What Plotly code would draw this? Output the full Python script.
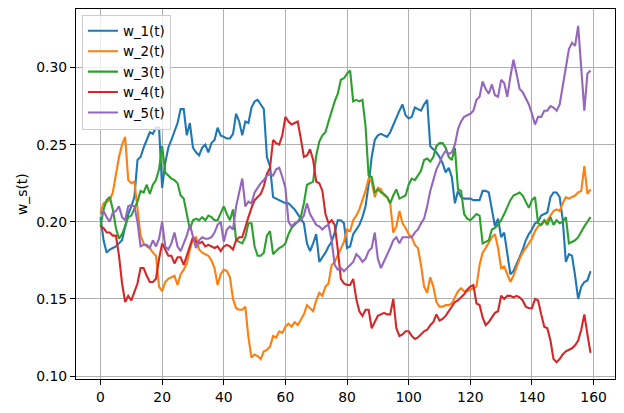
import plotly.graph_objects as go

t = list(range(160))

w_1 = [0.203, 0.188, 0.180, 0.182, 0.183, 0.184, 0.186, 0.188, 0.197, 0.205,
       0.210, 0.216, 0.240, 0.242, 0.248, 0.253, 0.258, 0.257, 0.261, 0.261,
       0.222, 0.238, 0.248, 0.253, 0.258, 0.264, 0.273, 0.273, 0.256, 0.264,
       0.248, 0.245, 0.243, 0.248, 0.250, 0.245, 0.251, 0.253, 0.261, 0.256,
       0.255, 0.254, 0.254, 0.257, 0.270, 0.265, 0.256, 0.265, 0.264, 0.274,
       0.278, 0.279, 0.276, 0.273, 0.242, 0.236, 0.216, 0.215, 0.214, 0.213,
       0.212, 0.212, 0.210, 0.208, 0.205, 0.202, 0.199, 0.186, 0.181, 0.186,
       0.192, 0.174, 0.177, 0.180, 0.184, 0.187, 0.193, 0.201, 0.201, 0.199,
       0.183, 0.184, 0.192, 0.195, 0.198, 0.203, 0.210, 0.224, 0.242, 0.253,
       0.256, 0.257, 0.256, 0.255, 0.258, 0.263, 0.267, 0.272, 0.276, 0.269,
       0.267, 0.268, 0.274, 0.273, 0.272, 0.276, 0.279, 0.249, 0.247, 0.245,
       0.242, 0.238, 0.232, 0.235, 0.229, 0.212, 0.220, 0.216, 0.215, 0.215,
       0.215, 0.214, 0.214, 0.214, 0.220, 0.220, 0.219, 0.208, 0.197, 0.202,
       0.190, 0.193, 0.180, 0.166, 0.168, 0.172, 0.177, 0.182, 0.188, 0.192,
       0.195, 0.199, 0.200, 0.204, 0.205, 0.206, 0.216, 0.219, 0.219, 0.216,
       0.201, 0.174, 0.179, 0.178, 0.165, 0.150, 0.158, 0.161, 0.162, 0.168]

w_2 = [0.206, 0.212, 0.213, 0.214, 0.219, 0.232, 0.242, 0.250, 0.255, 0.227,
       0.225, 0.226, 0.208, 0.191, 0.186, 0.184, 0.183, 0.180, 0.178, 0.158,
       0.155, 0.161, 0.163, 0.164, 0.165, 0.159, 0.166, 0.169, 0.173, 0.182,
       0.189, 0.190, 0.182, 0.180, 0.179, 0.178, 0.175, 0.170, 0.159, 0.166,
       0.169, 0.168, 0.164, 0.150, 0.144, 0.143, 0.143, 0.145, 0.125, 0.112,
       0.114, 0.113, 0.111, 0.116, 0.117, 0.119, 0.126, 0.125, 0.129, 0.128,
       0.132, 0.134, 0.132, 0.135, 0.133, 0.137, 0.140, 0.146, 0.144, 0.142,
       0.149, 0.154, 0.152, 0.158, 0.160, 0.172, 0.174, 0.178, 0.182, 0.187,
       0.195, 0.194, 0.201, 0.204, 0.208, 0.214, 0.220, 0.228, 0.226, 0.216,
       0.222, 0.221, 0.217, 0.216, 0.212, 0.193, 0.197, 0.207, 0.199, 0.196,
       0.192, 0.190, 0.185, 0.183, 0.172, 0.158, 0.154, 0.164, 0.158, 0.148,
       0.145, 0.145, 0.146, 0.146, 0.147, 0.151, 0.155, 0.157, 0.155, 0.155,
       0.156, 0.157, 0.158, 0.172, 0.180, 0.183, 0.187, 0.190, 0.192, 0.183,
       0.170, 0.171, 0.166, 0.161, 0.165, 0.171, 0.176, 0.180, 0.183, 0.186,
       0.189, 0.194, 0.197, 0.198, 0.200, 0.201, 0.204, 0.207, 0.208, 0.207,
       0.212, 0.216, 0.215, 0.216, 0.217, 0.219, 0.220, 0.236, 0.218, 0.221]

w_3 = [0.197, 0.208, 0.214, 0.216, 0.208, 0.196, 0.189, 0.192, 0.197, 0.203,
       0.204, 0.208, 0.213, 0.220, 0.219, 0.224, 0.218, 0.224, 0.227, 0.234,
       0.249, 0.232, 0.230, 0.228, 0.227, 0.225, 0.217, 0.215, 0.205, 0.195,
       0.201, 0.202, 0.201, 0.203, 0.201, 0.204, 0.203, 0.201, 0.201, 0.205,
       0.210, 0.205, 0.201, 0.208, 0.188, 0.187, 0.186, 0.190, 0.199, 0.199,
       0.184, 0.178, 0.178, 0.180, 0.191, 0.194, 0.179, 0.181, 0.183, 0.184,
       0.186, 0.192, 0.196, 0.198, 0.200, 0.203, 0.212, 0.224, 0.225, 0.226,
       0.243, 0.252, 0.256, 0.258, 0.265, 0.272, 0.278, 0.283, 0.292, 0.293,
       0.296, 0.298, 0.278, 0.279, 0.278, 0.279, 0.262, 0.230, 0.229, 0.219,
       0.221, 0.219, 0.218, 0.216, 0.212, 0.217, 0.221, 0.215, 0.216, 0.217,
       0.224, 0.228, 0.227, 0.230, 0.233, 0.240, 0.241, 0.239, 0.242, 0.249,
       0.251, 0.251, 0.248, 0.242, 0.240, 0.248, 0.221, 0.220, 0.205, 0.202,
       0.201, 0.203, 0.205, 0.204, 0.186, 0.187, 0.188, 0.195, 0.196, 0.198,
       0.201, 0.205, 0.210, 0.214, 0.217, 0.218, 0.219, 0.217, 0.213, 0.209,
       0.214, 0.216, 0.199, 0.198, 0.201, 0.198, 0.203, 0.198, 0.201, 0.199,
       0.200, 0.203, 0.186, 0.187, 0.188, 0.190, 0.194, 0.197, 0.200, 0.203]

w_4 = [0.197, 0.196, 0.193, 0.193, 0.191, 0.191, 0.178, 0.160, 0.148, 0.152,
       0.149, 0.155, 0.160, 0.170, 0.170, 0.165, 0.161, 0.161, 0.163, 0.176,
       0.186, 0.182, 0.178, 0.178, 0.173, 0.177, 0.177, 0.172, 0.178, 0.184,
       0.190, 0.187, 0.186, 0.187, 0.184, 0.185, 0.184, 0.183, 0.184, 0.181,
       0.184, 0.185, 0.184, 0.182, 0.188, 0.190, 0.190, 0.197, 0.203, 0.209,
       0.214, 0.216, 0.218, 0.223, 0.231, 0.235, 0.253, 0.251, 0.250, 0.256,
       0.268, 0.265, 0.263, 0.264, 0.265, 0.254, 0.242, 0.243, 0.247, 0.240,
       0.226, 0.225, 0.220, 0.205, 0.199, 0.201, 0.198, 0.182, 0.163, 0.160,
       0.159, 0.159, 0.163, 0.150, 0.142, 0.139, 0.143, 0.143, 0.131, 0.135,
       0.139, 0.140, 0.141, 0.140, 0.140, 0.150, 0.131, 0.126, 0.127, 0.129,
       0.129, 0.126, 0.124, 0.125, 0.127, 0.129, 0.130, 0.133, 0.135, 0.140,
       0.136, 0.137, 0.139, 0.142, 0.145, 0.148, 0.149, 0.151, 0.153, 0.156,
       0.158, 0.159, 0.147, 0.146, 0.138, 0.133, 0.135, 0.138, 0.141, 0.142,
       0.152, 0.150, 0.152, 0.152, 0.151, 0.152, 0.151, 0.149, 0.145, 0.144,
       0.144, 0.150, 0.149, 0.140, 0.132, 0.131, 0.123, 0.111, 0.109, 0.111,
       0.114, 0.116, 0.117, 0.118, 0.120, 0.123, 0.130, 0.140, 0.127, 0.115]

w_5 = [0.205, 0.207, 0.203, 0.200, 0.206, 0.207, 0.210, 0.203, 0.201, 0.210,
       0.211, 0.210, 0.200, 0.184, 0.185, 0.185, 0.183, 0.188, 0.184, 0.189,
       0.200, 0.184, 0.182, 0.186, 0.193, 0.184, 0.181, 0.186, 0.191, 0.198,
       0.190, 0.183, 0.188, 0.190, 0.189, 0.189, 0.190, 0.193, 0.198, 0.200,
       0.187, 0.195, 0.197, 0.195, 0.210, 0.220, 0.228, 0.210, 0.213, 0.212,
       0.219, 0.222, 0.225, 0.227, 0.230, 0.231, 0.230, 0.234, 0.235, 0.229,
       0.222, 0.200, 0.197, 0.199, 0.200, 0.201, 0.204, 0.212, 0.205, 0.201,
       0.198, 0.197, 0.195, 0.197, 0.198, 0.188, 0.172, 0.169, 0.170, 0.168,
       0.170, 0.172, 0.174, 0.179, 0.177, 0.174, 0.176, 0.181, 0.183, 0.193,
       0.176, 0.170, 0.174, 0.178, 0.183, 0.188, 0.190, 0.186, 0.190, 0.190,
       0.190, 0.190, 0.193, 0.195, 0.199, 0.202, 0.210, 0.220, 0.227, 0.234,
       0.238, 0.243, 0.246, 0.244, 0.245, 0.250, 0.260, 0.265, 0.268, 0.269,
       0.270, 0.272, 0.279, 0.281, 0.291, 0.286, 0.283, 0.289, 0.282, 0.281,
       0.292, 0.290, 0.281, 0.294, 0.305, 0.296, 0.286, 0.284, 0.280, 0.276,
       0.270, 0.263, 0.268, 0.268, 0.272, 0.272, 0.275, 0.274, 0.272, 0.276,
       0.288, 0.300, 0.312, 0.316, 0.314, 0.327, 0.300, 0.272, 0.296, 0.298]

names = ["w_1(t)", "w_2(t)", "w_3(t)", "w_4(t)", "w_5(t)"]
series = [w_1, w_2, w_3, w_4, w_5]
colors = ["#1f77b4", "#ff7f0e", "#2ca02c", "#d62728", "#9467bd"]

x_ticks = [0, 20, 40, 60, 80, 100, 120, 140, 160]
y_ticks = [0.10, 0.15, 0.20, 0.25, 0.30]

fig = go.Figure()
for name, ys, c in zip(names, series, colors):
    fig.add_trace(go.Scatter(x=t, y=ys, mode="lines", name=name,
                             line=dict(color=c, width=2.1)))

# 5% padding around the data, like a default matplotlib autoscale
all_y = [v for s in series for v in s]
ylo, yhi = min(all_y), max(all_y)
ypad = 0.05 * (yhi - ylo)
xpad = 0.05 * (t[-1] - t[0])

font = dict(family="DejaVu Sans", size=13.9, color="black")
legend_font = dict(family="DejaVu Sans", size=13.4, color="black")
axis_common = dict(showline=True, mirror=True, linecolor="black", linewidth=1,
                   ticks="outside", ticklen=5, tickwidth=1, tickcolor="black",
                   showgrid=True, gridcolor="#b0b0b0", gridwidth=1,
                   zeroline=False, tickfont=font)

fig.update_layout(
    width=624, height=413,
    margin=dict(l=76, r=8, t=8, b=27),
    paper_bgcolor="white", plot_bgcolor="white",
    font=font,
    showlegend=True,
    legend=dict(x=0.011, y=0.985, xanchor="left", yanchor="top",
                bgcolor="rgba(255,255,255,0.8)", bordercolor="#cccccc",
                borderwidth=1, font=legend_font, itemwidth=30,
                tracegroupgap=0),
    xaxis=dict(range=[t[0] - xpad, t[-1] + xpad], tickvals=x_ticks,
               **axis_common),
    yaxis=dict(range=[ylo - ypad, yhi + ypad], tickvals=y_ticks,
               tickformat=".2f", **axis_common),
    annotations=[dict(text="w_s(t)", xref="paper", yref="paper",
                      x=-0.1, y=0.5, xanchor="center", yanchor="middle",
                      textangle=-90, showarrow=False, font=font)],
)

fig.write_html("out.html")
